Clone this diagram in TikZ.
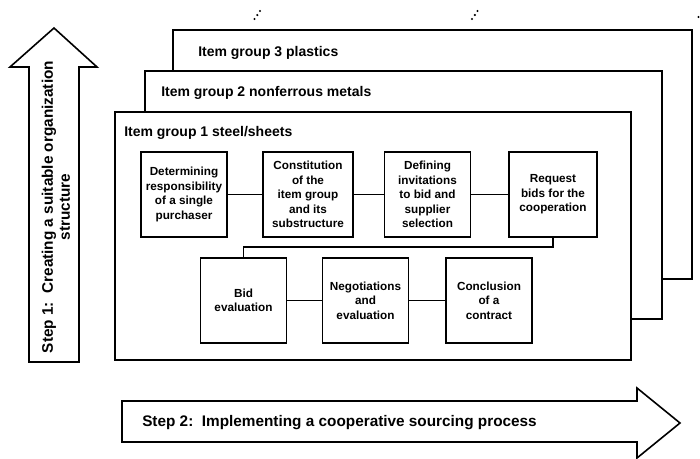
\documentclass[tikz,border=0pt]{standalone}
\usepackage{fontspec}
\setmainfont{Liberation Sans}
\usetikzlibrary{calc}
\begin{document}
\begin{tikzpicture}[x=0.75pt,y=-0.75pt,
  frame/.style={draw=black,line width=1.1pt,fill=white},
  stepbox/.style={draw=black,line width=1.1pt,fill=white,minimum width=64.5pt,
    minimum height=64pt,inner sep=1pt,align=center,
    font=\fontsize{8.8}{10.8}\selectfont\bfseries},
  link/.style={draw=black,line width=1pt},
  grouptitle/.style={anchor=base west,inner sep=0pt,
    font=\fontsize{10.5}{12}\selectfont\bfseries},
  bigarrow/.style={draw=black,line width=1.2pt,line join=miter},
  steplabel/.style={inner sep=0pt,font=\fontsize{11.5}{12.75}\selectfont\bfseries},
  dot/.style={fill=black,draw=none}]
\useasboundingbox (0,0) rectangle (700,458);

% continuation marks above the stack of item groups
\foreach \mx in {254.5,472} {
  \fill[dot] (\mx,19) circle (1.2);
  \fill[dot] (\mx+2.8,15) circle (1.2);
  \fill[dot] (\mx+5.5,11) circle (1.2);
}
\fill[dot] (698.5,17) circle (1.2);

% Step 1: upward arrow
\draw[bigarrow] (29,362) -- (29,67) -- (10,67) -- (54,28) -- (97,67)
  -- (79,67) -- (79,362) -- cycle;
\node[steplabel,rotate=90,align=center] (s1) at (56,207)
  {Step 1:\ \ Creating a suitable organization\\structure};

% Step 2: rightward arrow
\draw[bigarrow] (122,401) -- (637,401) -- (637,388) -- (680,423)
  -- (637,458) -- (637,442) -- (122,442) -- cycle;
\node[steplabel,anchor=base west] (s2) at (142,426)
  {Step 2:\ \ Implementing a cooperative sourcing process};

% stacked item groups
\draw[frame] (173,30) rectangle (692,279);
\node[grouptitle] (g3) at (198,56) {Item group 3 plastics};
\draw[frame] (145,71) rectangle (662,319);
\node[grouptitle] (g2) at (161,96) {Item group 2 nonferrous metals};
\draw[frame] (115,112) rectangle (631,360);
\node[grouptitle] (g1) at (124,136) {Item group 1 steel/sheets};

% process steps, first row
\node[stepbox] (A) at (184,194.5) {Determining\\responsibility\\of a single\\purchaser};
\node[stepbox,minimum width=67.5pt] (B) at (308,194.5) {Constitution\\of the\\item group\\and its\\substructure};
\node[stepbox] (C) at (427.5,194.5) {Defining\\invitations\\to bid and\\supplier\\selection};
\node[stepbox,minimum width=66pt] (D) at (553,194.5) {Request\\bids for the\\cooperation};

% process steps, second row
\node[stepbox] (E) at (243.5,300.5) {Bid\\evaluation};
\node[stepbox] (F) at (365.5,300.5) {Negotiations\\and\\evaluation};
\node[stepbox] (G) at (489,300.5) {Conclusion\\of a\\contract};

% connectors
\draw[link] (A) -- (B);
\draw[link] (B) -- (C);
\draw[link] (C) -- (D);
\coordinate (turn) at (0,247);
\draw[link] (D.south) -- (D.south |- turn) -| (E.north);
\draw[link] (E) -- (F);
\draw[link] (F) -- (G);
\end{tikzpicture}
\end{document}
